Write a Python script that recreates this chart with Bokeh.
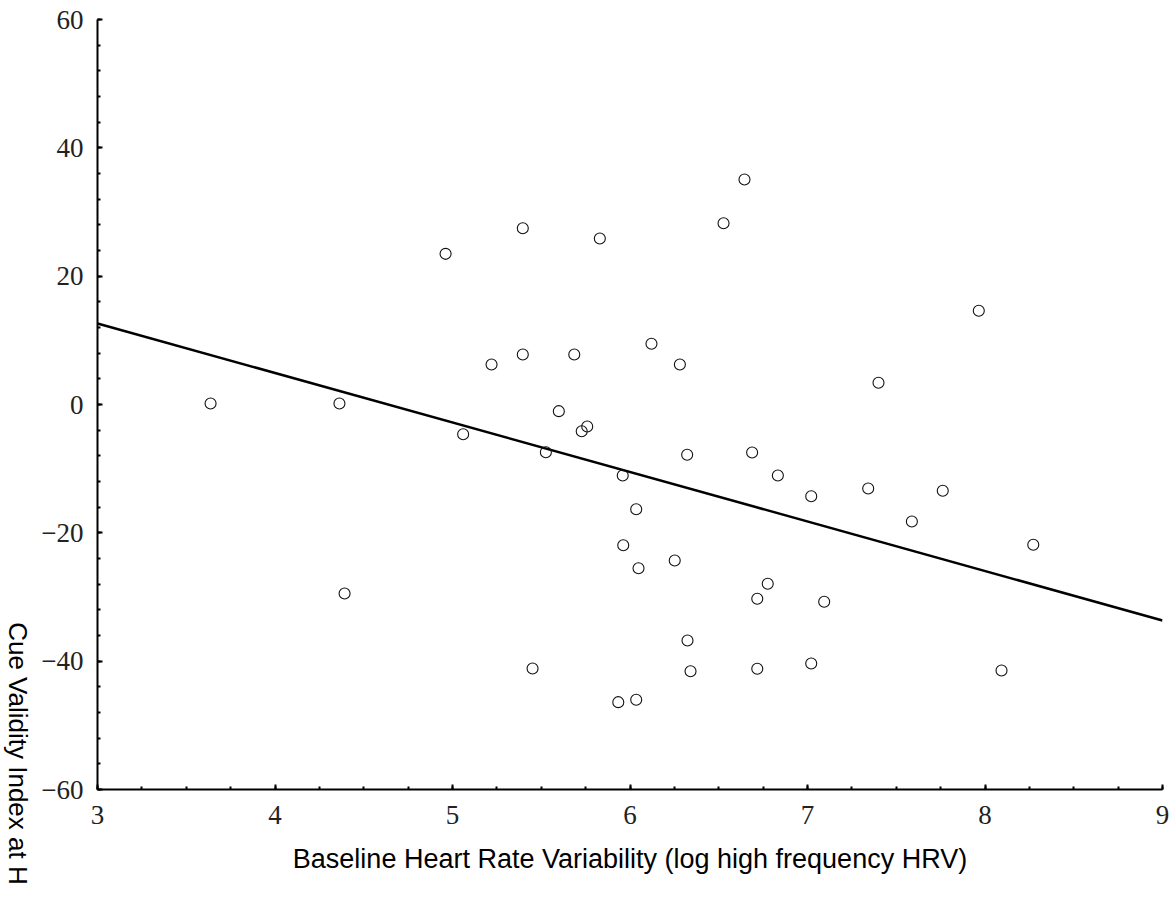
import numpy as np
from bokeh.plotting import figure
from bokeh.models import Range1d, FixedTicker, Title
from bokeh.layouts import row
from bokeh.embed import file_html
from bokeh.resources import INLINE

# Data
hrv = [3.637, 4.363, 4.392, 4.961, 5.060, 5.220, 5.396, 5.396, 5.526, 5.451,
       5.599, 5.686, 5.728, 5.759, 5.830, 5.934, 5.962, 5.959, 6.035, 6.048,
       6.035, 6.121, 6.252, 6.281, 6.322, 6.324, 6.341, 6.527, 6.645, 6.688,
       6.717, 6.717, 6.776, 6.833, 7.021, 7.021, 7.094, 7.342, 7.400, 7.588,
       7.762, 7.965, 8.093, 8.272]
cvi = [0.16, 0.16, -29.45, 23.48, -4.63, 6.23, 27.47, 7.79, -7.43, -41.14,
       -1.04, 7.79, -4.16, -3.43, 25.87, -46.39, -21.93, -11.06, -16.32, -25.51,
       -46.02, 9.46, -24.31, 6.23, -7.84, -36.78, -41.56, 28.25, 35.06, -7.48,
       -30.28, -41.19, -27.94, -11.06, -14.29, -40.36, -30.75, -13.09, 3.38, -18.23,
       -13.45, 14.60, -41.45, -21.86]
fit_x = [3.0, 9.0]
fit_y = [12.62, -33.66]

x_ticks = [3, 4, 5, 6, 7, 8, 9]
y_ticks = [-60, -40, -20, 0, 20, 40, 60]
x_minor = list(np.arange(3, 9.001, 0.25))
y_minor = list(np.arange(-60, 60.001, 4))

x_title = "Baseline Heart Rate Variability (log high frequency HRV)"
y_title = "Cue Validity Index at H"

H = 898
LW = 34

# narrow strip whose right side panel holds the vertical (top-to-bottom) y title
lab = figure(width=LW, height=H, output_backend="svg", toolbar_location=None,
             x_range=Range1d(0, 1), y_range=Range1d(0, 1),
             x_axis_location=None, y_axis_location=None,
             min_border_left=0, min_border_right=0,
             min_border_top=19, min_border_bottom=109)
lab.outline_line_color = None
lab.grid.visible = False
lab.add_layout(Title(text=y_title, align="left", offset=602.7, standoff=0,
                     text_font="Liberation Sans", text_font_size="26px",
                     text_font_style="normal", text_color="black"), "right")

p = figure(width=1176 - LW, height=H, output_backend="svg", toolbar_location=None,
           x_range=Range1d(3, 9), y_range=Range1d(-60, 60),
           min_border_left=97 - LW, min_border_right=14, min_border_top=19,
           min_border_bottom=109)
p.outline_line_color = None
p.grid.visible = False

p.line(fit_x, fit_y, line_color="black", line_width=2.5)
p.scatter(hrv, cvi, marker="circle", size=11, fill_color=None,
          line_color="#111111", line_width=1.1)

for ax in (p.xaxis[0], p.yaxis[0]):
    ax.axis_line_width = 2
    ax.axis_line_color = "black"
    ax.major_tick_in = 5
    ax.major_tick_out = 0
    ax.minor_tick_in = 3
    ax.minor_tick_out = 0
    ax.major_tick_line_width = 2
    ax.minor_tick_line_width = 2
    ax.major_label_text_font = "Liberation Serif"
    ax.major_label_text_font_size = "27px"
    ax.major_label_text_color = "#222222"

p.xaxis.ticker = FixedTicker(ticks=x_ticks, minor_ticks=x_minor)
p.yaxis.ticker = FixedTicker(ticks=y_ticks, minor_ticks=y_minor)
p.yaxis.major_label_overrides = {t: (("\u2212" + str(-t)) if t < 0 else str(t)) for t in y_ticks}
p.xaxis.major_label_standoff = 16
p.yaxis.major_label_standoff = 14

p.xaxis.axis_label = x_title
p.xaxis.axis_label_text_font = "Liberation Sans"
p.xaxis.axis_label_text_font_size = "27px"
p.xaxis.axis_label_text_font_style = "normal"
p.xaxis.axis_label_text_color = "black"
p.xaxis.axis_label_standoff = 17

layout = row(lab, p, spacing=0)
open("out.html", "w").write(file_html(layout, INLINE))
